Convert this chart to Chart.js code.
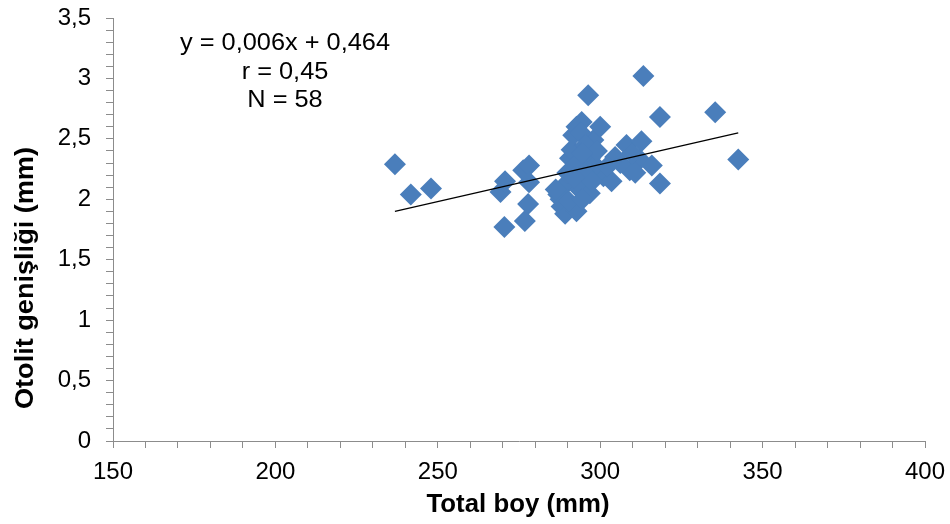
<!DOCTYPE html>
<html>
<head>
<meta charset="utf-8">
<script src="https://cdn.jsdelivr.net/npm/chart.js@4.4.0/dist/chart.umd.min.js"></script>
<style>
  html, body { margin: 0; padding: 0; background: #fff; }
  #wrap { width: 950px; height: 524px; position: relative; }
</style>
</head>
<body>
<div id="wrap"><canvas id="chartOtolit"></canvas></div>
<script>
// Total boy (mm) vs otolit genişliği (mm)
const totalBoy = [
    236.8, 241.7, 247.9, 269.3, 270.7, 270.5, 276.8, 277.8, 276.3, 278.1,
    278.1, 287.1, 288.1, 289.2, 292.7, 289.2, 293.7, 296.8, 290.7, 291.2,
    291.7, 292.7, 294.3, 296.3, 297.9, 300.0, 296.8, 301.0, 303.5, 304.6,
    308.1, 309.1, 312.2, 312.7, 315.9, 313.3, 318.4, 318.4, 335.4, 342.5,
    294.0, 295.5, 292.9, 298.5, 295.0, 297.5, 289.9, 287.8, 290.4, 294.5,
    302.1, 306.2, 309.8, 299.0, 286.3, 291.9, 310.8, 294.5
];
const otolitGenisligi = [
    2.29, 2.04, 2.09, 2.06, 2.15, 1.77, 1.82, 1.96, 2.24, 2.28,
    2.14, 2.04, 1.94, 1.88, 1.90, 2.12, 2.08, 2.05, 2.34, 2.41,
    2.53, 2.60, 2.64, 2.86, 2.49, 2.60, 2.34, 2.19, 2.15, 2.35,
    2.45, 2.24, 2.33, 2.48, 2.28, 3.02, 2.68, 2.13, 2.72, 2.33,
    2.55, 2.45, 2.30, 2.28, 2.22, 2.15, 2.22, 2.00, 1.98, 2.00,
    2.27, 2.30, 2.38, 2.40, 2.08, 2.18, 2.22, 2.38
];
// trend line end points
const trendX = [236.8, 342.5];
const trendY = [1.90, 2.55];

const annotationLines = ['y = 0,006x + 0,464', 'r = 0,45', 'N = 58'];
const xTitle = 'Total boy (mm)';
const yTitle = 'Otolit genişliği (mm)';

const FONT = "'Liberation Sans', Arial, sans-serif";

// draws text centred on (cx, cy), stretched along its length by sx
function drawStretched(ctx, text, cx, cy, font, sx, angle) {
    ctx.save();
    ctx.font = font;
    ctx.fillStyle = '#000';
    ctx.textAlign = 'center';
    ctx.textBaseline = 'middle';
    ctx.translate(cx, cy);
    if (angle) ctx.rotate(angle);
    ctx.scale(sx, 1);
    ctx.fillText(text, 0, 0);
    ctx.restore();
}

function widthOf(ctx, text, font) {
    ctx.save();
    ctx.font = font;
    const w = ctx.measureText(text).width;
    ctx.restore();
    return w;
}

const textPlugin = {
    id: 'textPlugin',
    afterDraw(chart) {
        const ctx = chart.ctx;
        const annFont = '23px ' + FONT;
        const sx = 210 / widthOf(ctx, annotationLines[0], annFont);
        const lineY = [44, 73, 101];
        annotationLines.forEach((line, i) => {
            drawStretched(ctx, line, 285, lineY[i], annFont, sx, 0);
        });
        const tFont = 'bold 26px ' + FONT;
        drawStretched(ctx, xTitle, 518, 505, tFont, 183 / widthOf(ctx, xTitle, tFont), 0);
        drawStretched(ctx, yTitle, 26, 278, tFont, 262 / widthOf(ctx, yTitle, tFont), -Math.PI / 2);
    }
};

new Chart(document.getElementById('chartOtolit'), {
    type: 'scatter',
    data: {
        datasets: [
            {
                type: 'line',
                data: trendX.map((x, i) => ({ x: x, y: trendY[i] })),
                borderColor: '#000',
                borderWidth: 1.3,
                pointRadius: 0,
                fill: false,
                order: 0
            },
            {
                data: totalBoy.map((x, i) => ({ x: x, y: otolitGenisligi[i] })),
                pointStyle: 'rectRot',
                pointRadius: 11,
                backgroundColor: '#4a7ebb',
                borderColor: '#4a7ebb',
                borderWidth: 0,
                order: 1
            }
        ]
    },
    options: {
        responsive: true,
        maintainAspectRatio: false,
        animation: false,
        layout: { padding: { top: 18, right: 25, left: 0, bottom: 0 } },
        plugins: {
            legend: { display: false },
            tooltip: { enabled: false }
        },
        scales: {
            x: {
                type: 'linear',
                min: 150,
                max: 400,
                afterFit: s => {
                    s.height = 83;
                    s.paddingLeft = 0;
                    s.paddingRight = 0;
                },
                ticks: {
                    stepSize: 10,
                    autoSkip: false,
                    maxRotation: 0,
                    color: '#000',
                    font: { family: FONT, size: 24 },
                    padding: 10,
                    callback: v => (Math.round(v) % 50 === 0 ? String(Math.round(v)) : '')
                },
                grid: { drawOnChartArea: false, drawTicks: true, tickLength: 7, color: '#8c8c8c' },
                border: { color: '#8c8c8c', width: 1 },
                title: { display: false }
            },
            y: {
                type: 'linear',
                min: 0,
                max: 3.5,
                afterFit: s => {
                    s.width = 113;
                    s.paddingTop = 0;
                    s.paddingBottom = 0;
                },
                ticks: {
                    stepSize: 0.1,
                    autoSkip: false,
                    color: '#000',
                    font: { family: FONT, size: 24 },
                    padding: 15,
                    callback: v => {
                        const t = Math.round(v * 10);
                        if (t % 5 !== 0) return '';
                        return (t / 10).toString().replace('.', ',');
                    }
                },
                grid: { drawOnChartArea: false, drawTicks: true, tickLength: 7, color: '#8c8c8c' },
                border: { color: '#8c8c8c', width: 1 },
                title: { display: false }
            }
        }
    },
    plugins: [textPlugin]
});
</script>
</body>
</html>
